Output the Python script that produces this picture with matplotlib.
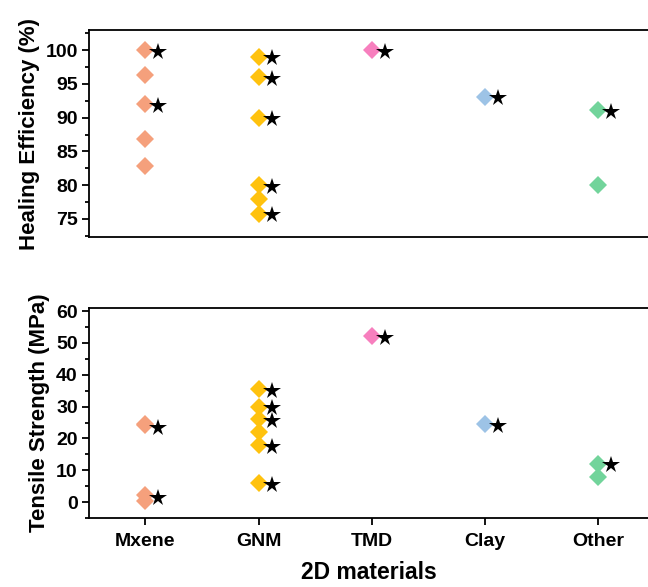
""" Healing efficiency and tensile strength of 2D material composites """

from matplotlib import pyplot as plt
from matplotlib.ticker import MultipleLocator

plt.rcParams["font.family"] = ["Liberation Sans", "DejaVu Sans"]
plt.rcParams["font.weight"] = "bold"

categories = ["Mxene", "GNM", "TMD", "Clay", "Other"]
colors = ["#F5A07C", "#FFC20E", "#F77FBE", "#9DC3E6", "#72D49B"]

# healing efficiency (%) per category
heal = [
    [100, 96.3, 92, 86.8, 82.9],
    [99, 96, 90, 80, 78, 75.8],
    [100],
    [93.1],
    [91.2, 80],
]
heal_star = [
    [99.8, 91.8],
    [98.8, 95.8, 89.8, 79.8, 75.6],
    [99.8],
    [92.9],
    [90.9],
]

# tensile strength (MPa) per category
tensile = [
    [24.6, 24.1, 2.2, 0.2],
    [35.6, 30, 26, 22, 18, 6],
    [52.2],
    [24.5],
    [12, 8],
]
tensile_star = [
    [23.3, 1.3],
    [35, 29.4, 25.4, 17.3, 5.4],
    [51.6],
    [23.9],
    [11.5],
]


def draw(ax, values, stars):
    """ Diamonds per category with the starred points beside them """
    for i, (vals, st, c) in enumerate(zip(values, stars, colors)):
        x = i + 1
        ax.plot([x] * len(vals), vals, "D", color=c, ms=9.3, mew=0,
                linestyle="none", zorder=3)
        ax.plot([x + 0.115] * len(st), st, "*", color="black", ms=13,
                mew=0, linestyle="none", zorder=4)


fig = plt.figure(figsize=(6.48, 5.87), dpi=100)
ax1 = fig.add_axes([0.137, 0.596, 0.863, 0.353])
ax2 = fig.add_axes([0.137, 0.1175, 0.863, 0.358])

draw(ax1, heal, heal_star)
draw(ax2, tensile, tensile_star)

for ax in (ax1, ax2):
    ax.set_xlim(0.5, 5.44)
    ax.spines["right"].set_visible(False)
    for s in ax.spines.values():
        s.set_linewidth(1.3)
    ax.tick_params(axis="y", which="major", direction="out", length=5,
                   width=1.3, labelsize=14, pad=3)
    ax.tick_params(axis="y", which="minor", direction="out", length=3,
                   width=1.3)
    ax.tick_params(right=False, top=False)

ax1.set_ylim(72.3, 103)
ax1.yaxis.set_major_locator(MultipleLocator(5))
ax1.yaxis.set_minor_locator(MultipleLocator(2.5))
ax1.set_xticks([])
ax1.set_ylabel("Healing Efficiency (%)", fontsize=16, fontweight="bold",
               labelpad=4)

ax2.set_ylim(-5, 61)
ax2.yaxis.set_major_locator(MultipleLocator(10))
ax2.yaxis.set_minor_locator(MultipleLocator(5))
ax2.set_xticks(range(1, len(categories) + 1))
ax2.set_xticklabels(categories)
ax2.tick_params(axis="x", direction="out", length=5, width=1.3,
                labelsize=14, pad=6)
ax2.set_ylabel("Tensile Strength (MPa)", fontsize=16, fontweight="bold",
               labelpad=4)
ax2.set_xlabel("2D materials", fontsize=16.5, fontweight="bold", labelpad=8)

fig.savefig("out.png", dpi=100)
